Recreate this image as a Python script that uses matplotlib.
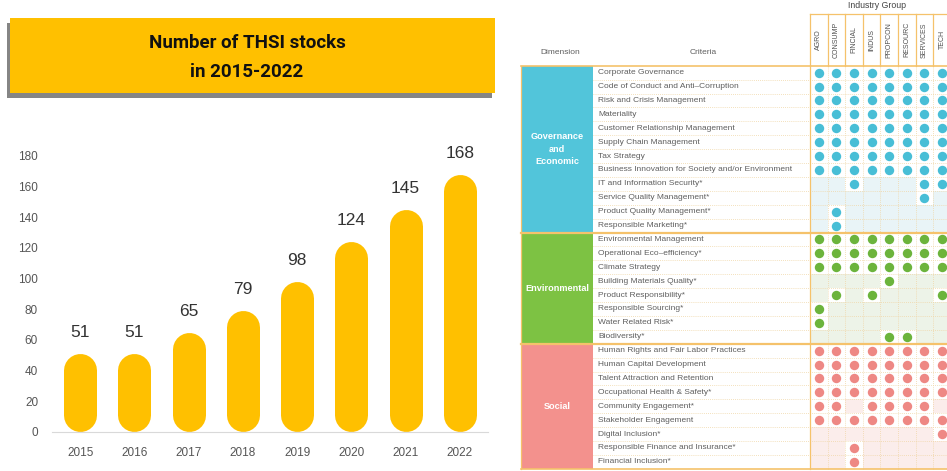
import matplotlib
matplotlib.use('Agg')
import matplotlib.pyplot as plt
from matplotlib.patches import Rectangle

# ---- data -------------------------------------------------------------
years = ['2015', '2016', '2017', '2018', '2019', '2020', '2021', '2022']
stocks = [51, 51, 65, 79, 98, 124, 145, 168]
y_ticks = [0, 20, 40, 60, 80, 100, 120, 140, 160, 180]

industries = ['AGRO', 'CONSUMP', 'FINCIAL', 'INDUS', 'PROPCON', 'RESOURC', 'SERVICES', 'TECH']
ALL = industries

dimensions = ['Governance\nand\nEconomic', 'Environmental', 'Social']

criteria_gov = ['Corporate Governance', 'Code of Conduct and Anti\u2013Corruption',
                'Risk and Crisis Management', 'Materiality',
                'Customer Relationship Management', 'Supply Chain Management',
                'Tax Strategy', 'Business Innovation for Society and/or Environment',
                'IT and Information Security*', 'Service Quality Management*',
                'Product Quality Management*', 'Responsible Marketing*']
coverage_gov = [ALL, ALL, ALL, ALL, ALL, ALL, ALL, ALL,
                ['FINCIAL', 'SERVICES', 'TECH'], ['SERVICES'], ['CONSUMP'], ['CONSUMP']]

criteria_env = ['Environmental Management', 'Operational Eco\u2013efficiency*',
                'Climate Strategy', 'Building Materials Quality*',
                'Product Responsibility*', 'Responsible Sourcing*',
                'Water Related Risk*', 'Biodiversity*']
coverage_env = [ALL, ALL, ALL, ['PROPCON'], ['CONSUMP', 'INDUS', 'TECH'],
                ['AGRO'], ['AGRO'], ['PROPCON', 'RESOURC']]

criteria_soc = ['Human Rights and Fair Labor Practices', 'Human Capital Development',
                'Talent Attraction and Retention', 'Occupational Health & Safety*',
                'Community Engagement*', 'Stakeholder Engagement',
                'Digital Inclusion*', 'Responsible Finance and Insurance*',
                'Financial Inclusion*']
coverage_soc = [ALL, ALL, ALL, ALL,
                ['AGRO', 'CONSUMP', 'INDUS', 'PROPCON', 'RESOURC', 'SERVICES'],
                ALL, ['TECH'], ['FINCIAL'], ['FINCIAL']]

sections = [(criteria_gov, coverage_gov), (criteria_env, coverage_env), (criteria_soc, coverage_soc)]

# ---- styles -----------------------------------------------------------
yellow = '#FFC000'
block_colors = ['#52C5DA', '#7DC243', '#F3918D']
dot_colors = ['#48BED6', '#6CB43C', '#EE8884']
tint_colors = ['#E9F4F7', '#EDF3E8', '#FBEDEB']
orange = '#F5C26B'
grid_col = '#F0D6A6'
text_gray = '#5f5f5f'
plt.rcParams['font.family'] = ['Liberation Sans', 'DejaVu Sans']

W, H = 947, 471
fig = plt.figure(figsize=(W / 100, H / 100), dpi=100)


def px_box(x0, y0, x1, y1):
    return [x0 / W, 1 - y1 / H, (x1 - x0) / W, (y1 - y0) / H]


# background axes in pixel units (title box and table)
bg = fig.add_axes([0, 0, 1, 1], zorder=0)
bg.set_xlim(0, W)
bg.set_ylim(H, 0)
bg.axis('off')

# title box with shadow
bg.add_patch(Rectangle((7, 23), 485, 75, color='#858585', lw=0))
bg.add_patch(Rectangle((10, 18), 485, 75, color=yellow, lw=0))
title_font = ['Roboto', 'Liberation Sans', 'DejaVu Sans']
bg.text(247, 43, 'Number of THSI stocks', ha='center', va='center', fontsize=13.5,
        fontweight='bold', family=title_font, color='#111111')
bg.text(247, 72, 'in 2015-2022', ha='center', va='center', fontsize=13.5,
        fontweight='bold', family=title_font, color='#111111')

# ---- bar chart --------------------------------------------------------
ax = fig.add_axes(px_box(52, 156, 488, 431.7), zorder=1)
ax.patch.set_alpha(0)
ax.set_xlim(-0.52, len(years) - 0.48)
ax.set_ylim(0, 180)
px_per_unit = (431.7 - 156) / 180
bar_px = 33
r = bar_px / 2 / px_per_unit
for i, v in enumerate(stocks):
    ax.plot([i, i], [r, v - r], color=yellow, lw=bar_px * 0.72, solid_capstyle='round')
    ax.annotate(str(v), (i, v), xytext=(0, 15), textcoords='offset points',
                ha='center', va='center', fontsize=12.5, color='#333333')
ax.set_xticks(range(len(years)), years)
ax.set_yticks(y_ticks)
ax.tick_params(axis='both', length=0, labelsize=8.5, labelcolor='#555555')
ax.tick_params(axis='x', pad=11)
ax.tick_params(axis='y', pad=10)
for s in ['top', 'right', 'left']:
    ax.spines[s].set_visible(False)
ax.spines['bottom'].set_color('#d9d9d9')

# ---- table ------------------------------------------------------------
x_left, x_dim, x_mat = 521, 593, 810
col_w = 17.6
x_right = x_mat + col_w * len(industries)
head_top, head_bot = 14, 65.7
row_h = 13.9
n_rows = sum(len(c) for c, _ in sections)
y_bottom = head_bot + n_rows * row_h

bg.text((x_mat + x_right) / 2 - 3, 6, 'Industry Group', ha='center', va='center',
        fontsize=6.3, color='#444444')
bg.text((x_left + x_dim) / 2 + 3, 52, 'Dimension', ha='center', va='center', fontsize=6, color=text_gray)
bg.text(703, 52, 'Criteria', ha='center', va='center', fontsize=6, color=text_gray)
for j, ind in enumerate(industries):
    bg.text(x_mat + (j + 0.5) * col_w, (head_top + head_bot) / 2, ind, rotation=90,
            ha='center', va='center', fontsize=5, color='#505050')

row = 0
for k, (crits, cover) in enumerate(sections):
    y0 = head_bot + row * row_h
    bg.add_patch(Rectangle((x_left, y0), x_dim - x_left, len(crits) * row_h,
                           color=block_colors[k], lw=0))
    bg.text((x_left + x_dim) / 2, y0 + len(crits) * row_h / 2, dimensions[k],
            ha='center', va='center', fontsize=6.6, fontweight='bold', color='white',
            linespacing=1.5)
    for name, inds in zip(crits, cover):
        yc = head_bot + (row + 0.5) * row_h
        bg.text(598, yc, name, ha='left', va='center', fontsize=6.0, color=text_gray)
        for j, ind in enumerate(industries):
            xc = x_mat + (j + 0.5) * col_w
            if ind in inds:
                bg.scatter([xc], [yc], s=46, color=dot_colors[k], lw=0, zorder=4)
            else:
                bg.add_patch(Rectangle((x_mat + j * col_w, yc - row_h / 2), col_w, row_h,
                                       color=tint_colors[k], lw=0, zorder=1))
        row += 1
    if k > 0:
        bg.plot([x_left, x_right], [y0, y0], color=orange, lw=1.6, zorder=3)

# dotted grid
for i in range(1, n_rows):
    y = head_bot + i * row_h
    bg.plot([x_dim, x_right], [y, y], color=grid_col, lw=0.6, ls=(0, (1, 1.5)), zorder=2)
for j in range(1, len(industries)):
    x = x_mat + j * col_w
    bg.plot([x, x], [head_bot, y_bottom], color=grid_col, lw=0.6, ls=(0, (1, 1.5)), zorder=2)
    bg.plot([x, x], [head_top, head_bot], color=orange, lw=0.9, zorder=3)

# solid borders
bg.plot([x_left, x_right], [head_bot, head_bot], color=orange, lw=1.2, zorder=3)
bg.plot([x_mat, x_right], [head_top, head_top], color=orange, lw=0.9, zorder=3)
bg.plot([x_mat, x_mat], [head_top, y_bottom], color=orange, lw=0.9, zorder=3)
bg.plot([x_left, x_left], [head_bot, y_bottom], color=orange, lw=0.9, zorder=3)
bg.plot([x_left, x_right], [y_bottom, y_bottom], color=orange, lw=1.2, zorder=3)

fig.savefig('out.png', dpi=100)
